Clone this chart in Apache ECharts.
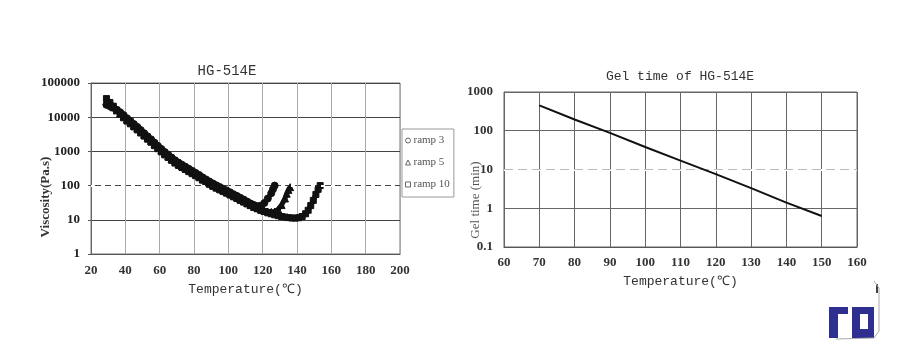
<!DOCTYPE html>
<html><head><meta charset="utf-8">
<script src="https://cdn.jsdelivr.net/npm/echarts@6/dist/echarts.min.js"></script>
<style>html,body{margin:0;padding:0;background:#fff}#c{width:900px;height:350px}</style>
</head><body><div id="c"></div>
<script>
// ---------- data ----------
const viscTitle = 'HG-514E';
const gelTitle = 'Gel time of HG-514E';
const seriesNames = ['ramp 3', 'ramp 5', 'ramp 10'];
const tempTicksLeft = [20, 40, 60, 80, 100, 120, 140, 160, 180, 200];
const viscTicks = [1, 10, 100, 1000, 10000, 100000];
const tempTicksRight = [60, 70, 80, 90, 100, 110, 120, 130, 140, 150, 160];
const gelTicks = [0.1, 1, 10, 100, 1000];

// [temperature, viscosity Pa.s]
const ramp3 = [[29,23000],[31,21000],[33,19000],[35,16500],[37,14000],[39,11500],[41,9300],[43,7800],[45,6300],[47,5200],[49,4200],[51,3400],[53,2750],[55,2250],[57,1800],[59,1450],[61,1180],[63,960],[65,800],[67,660],[69,550],[71,470],[73,410],[75,356],[77,310],[79,270],[81,235],[83,205],[85,174],[87,152],[89,132],[91,116],[93,102],[95,91],[97,81],[99,72],[101,64],[103,56],[105,50],[107,44],[109,39],[111,34],[113,30],[115,27],[117,25],[119,26],[121,31],[123,42],[125,60],[126,78],[127,100]];
const ramp5 = [[29,29000],[31,24000],[33,19500],[35,15800],[37,12900],[39,10500],[41,8500],[43,7100],[45,5750],[47,4700],[49,3800],[51,3100],[53,2500],[55,2040],[57,1620],[59,1320],[61,1070],[63,870],[65,724],[67,600],[69,500],[71,427],[73,372],[75,324],[77,282],[79,245],[81,214],[83,186],[85,158],[87,138],[89,120],[91,105],[93,93],[95,83],[97,74],[99,66],[101,59],[103,52],[105,46],[107,40],[109,35],[111,31],[113,27],[115,24],[117,22],[119,20],[121,18.5],[123,17.5],[125,17],[127,17.5],[129,20],[131,27],[133,42],[134,58],[135,75],[136,90]];
const ramp10 = [[29,35000],[31,27000],[33,21000],[35,16000],[37,12300],[39,9600],[41,7700],[43,6400],[45,5200],[47,4250],[49,3450],[51,2800],[53,2270],[55,1850],[57,1470],[59,1200],[61,970],[63,790],[65,660],[67,545],[69,455],[71,388],[73,338],[75,295],[77,256],[79,223],[81,195],[83,169],[85,144],[87,125],[89,109],[91,95],[93,84],[95,75],[97,67],[99,60],[101,53],[103,47],[105,42],[107,37],[109,33],[111,29],[113,26],[115,23],[117,21],[119,19],[121,17.5],[123,16],[125,15],[127,14],[129,13.2],[131,12.5],[133,12],[135,11.6],[137,11.3],[139,11.2],[141,11.5],[143,12.5],[145,15],[146.5,19],[148,26],[149.5,37],[151,55],[152.3,78],[153.5,100]];

const gelTemp = [70, 80, 90, 100, 110, 120, 130, 140, 150];
const gelTime = [450, 195, 88, 38, 17, 7.6, 3.3, 1.4, 0.63];

// ---------- chart ----------
const SERIF = '"Liberation Serif", "DejaVu Serif", serif';
const MONO = '"Liberation Mono", "DejaVu Sans Mono", monospace';
const chart = echarts.init(document.getElementById('c'), null, {renderer: 'canvas'});

function logFmt(v) { return v < 1 ? v.toFixed(1) : String(Math.round(v)); }

const symbols = ['circle', 'triangle', 'rect'];
const rampData = [ramp3, ramp5, ramp10];

const option = {
  backgroundColor: '#fff',
  animation: false,
  grid: [
    {left: 91, top: 83, width: 309, height: 171, show: true, borderColor: '#777', borderWidth: 1, backgroundColor: 'transparent'},
    {left: 504, top: 92, width: 353, height: 155, show: true, borderColor: '#666', borderWidth: 1, backgroundColor: 'transparent'}
  ],
  legend: {
    data: seriesNames.map((n, i) => ({name: n, icon: symbols[i]})),
    orient: 'vertical',
    left: 402, top: 129,
    itemWidth: 5, itemHeight: 5,
    itemGap: 9,
    padding: [5, 4, 6, 3],
    backgroundColor: '#fff',
    borderColor: '#999', borderWidth: 1,
    itemStyle: {color: '#fff', borderColor: '#666', borderWidth: 1},
    textStyle: {fontFamily: SERIF, fontSize: 11, color: '#555', lineHeight: 13, padding: [0,0,0,-2]}
  },
  xAxis: [
    {gridIndex: 0, type: 'value', min: tempTicksLeft[0], max: tempTicksLeft[tempTicksLeft.length-1], interval: 20,
     name: 'Temperature(℃)', nameLocation: 'middle', nameGap: 29, nameMoveOverlap: false,
     nameTextStyle: {fontFamily: MONO, fontSize: 13, color: '#333'},
     axisLine: {lineStyle: {color: '#555'}}, axisTick: {show: false},
     axisLabel: {fontFamily: SERIF, fontSize: 13, fontWeight: 'bold', color: '#333', margin: 10},
     splitLine: {show: true, lineStyle: {color: '#aaa', width: 1}}},
    {gridIndex: 1, type: 'value', min: tempTicksRight[0], max: tempTicksRight[tempTicksRight.length-1], interval: 10,
     name: 'Temperature(℃)', nameLocation: 'middle', nameGap: 28, nameMoveOverlap: false,
     nameTextStyle: {fontFamily: MONO, fontSize: 13, color: '#333'},
     axisLine: {lineStyle: {color: '#555'}}, axisTick: {show: false},
     axisLabel: {fontFamily: SERIF, fontSize: 13, fontWeight: 'bold', color: '#333', margin: 9},
     splitLine: {show: true, lineStyle: {color: '#666', width: 1}}}
  ],
  yAxis: [
    {gridIndex: 0, type: 'log', logBase: 10, min: viscTicks[0], max: viscTicks[viscTicks.length-1],
     name: 'Viscosity(Pa.s)', nameLocation: 'middle', nameGap: 39, nameMoveOverlap: false,
     nameTextStyle: {fontFamily: SERIF, fontSize: 13, fontWeight: 'bold', color: '#333', padding: [0, 57, 0, 0]},
     axisLine: {show: true, lineStyle: {color: '#666'}},
     axisTick: {show: true, length: 3, lineStyle: {color: '#555'}},
     axisLabel: {fontFamily: SERIF, fontSize: 13, fontWeight: 'bold', color: '#222', margin: 11, formatter: logFmt},
     splitLine: {show: true, lineStyle: {color: '#444', width: 1.2}}},
    {gridIndex: 1, type: 'log', logBase: 10, min: gelTicks[0], max: gelTicks[gelTicks.length-1],
     name: 'Gel time (min)', nameLocation: 'middle', nameGap: 22, nameMoveOverlap: false,
     nameTextStyle: {fontFamily: SERIF, fontSize: 13, color: '#555', padding: [0, 61, 0, 0]},
     axisLine: {show: true, lineStyle: {color: '#666'}},
     axisTick: {show: false},
     axisLabel: {fontFamily: SERIF, fontSize: 13, fontWeight: 'bold', color: '#333', margin: 11, formatter: logFmt},
     splitLine: {show: true, lineStyle: {color: '#666', width: 1}}}
  ],
  series: [
    ...rampData.map((d, i) => ({
      name: seriesNames[i], type: 'line', xAxisIndex: 0, yAxisIndex: 0,
      data: d, symbol: symbols[i], symbolSize: i === 2 ? 6 : 7, showAllSymbol: true,
      lineStyle: {color: '#111', width: 5},
      itemStyle: {color: '#111', borderColor: '#111', borderWidth: 1},
      z: 3 + (2 - i),
      markLine: i === 0 ? {silent: true, symbol: 'none', label: {show: false},
        data: [{yAxis: 100, lineStyle: {color: '#fff', type: [4, 6], width: 2}}]} : undefined
    })),
    {name: 'gel', type: 'line', xAxisIndex: 1, yAxisIndex: 1,
     data: gelTemp.map((t, i) => [t, gelTime[i]]), symbol: 'none',
     lineStyle: {color: '#111', width: 2},
     markLine: {silent: true, symbol: 'none', label: {show: false}, z: 1,
       data: [{yAxis: 10, lineStyle: {color: '#fff', type: 'solid', width: 2}},
              {yAxis: 10, lineStyle: {color: '#bbb', type: [9, 5], width: 1}}]}}
  ],
  graphic: [
    {type: 'text', x: 227, y: 71, style: {text: viscTitle, font: '14px ' + MONO, fill: '#333', align: 'center', verticalAlign: 'middle'}},
    {type: 'text', x: 680, y: 77, style: {text: gelTitle, font: '13px ' + MONO, fill: '#333', align: 'center', verticalAlign: 'middle'}},
    // logo
    {type: 'rect', shape: {x: 829, y: 307, width: 9, height: 31}, style: {fill: '#2e2f8e'}},
    {type: 'rect', shape: {x: 829, y: 307, width: 19, height: 7}, style: {fill: '#2e2f8e'}},
    {type: 'rect', shape: {x: 852, y: 307, width: 22, height: 31}, style: {fill: '#2e2f8e'}},
    {type: 'rect', shape: {x: 860, y: 314, width: 8, height: 15}, style: {fill: '#fff'}},
    {type: 'rect', shape: {x: 876, y: 284, width: 2, height: 9}, style: {fill: '#444'}},
    {type: 'polyline', shape: {points: [[874, 281], [879, 288], [879, 331], [874, 338], [836, 339]]}, style: {stroke: '#aaa', lineWidth: 1, fill: null}}
  ]
};
chart.setOption(option);
</script>
</body></html>
